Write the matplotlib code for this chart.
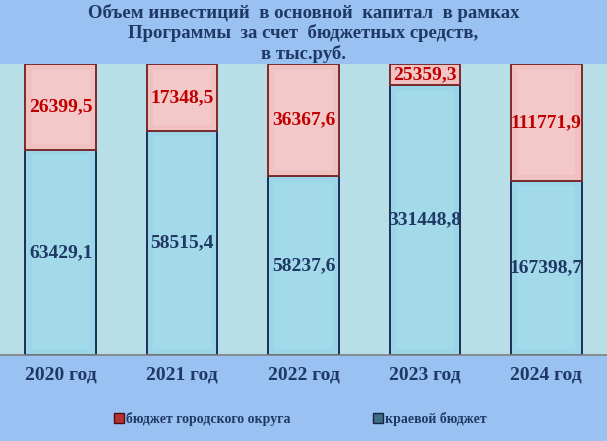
import matplotlib
matplotlib.use("Agg")
import matplotlib.pyplot as plt
from matplotlib.patches import Patch
import numpy as np

TITLE = "Объем инвестиций  в основной  капитал  в рамках\nПрограммы  за счет  бюджетных средств,\nв тыс.руб."

years = ["2020 год", "2021 год", "2022 год", "2023 год", "2024 год"]
kraevoy = [63429.1, 58515.4, 58237.6, 331448.8, 167398.7]
gorod = [26399.5, 17348.5, 36367.6, 25359.3, 111771.9]

NAVY = "#1F3864"
RED = "#C00000"


def fmt(v):
    return f"{v:.1f}".replace(".", ",")


plt.rcParams["font.family"] = ["Liberation Serif", "DejaVu Serif"]
fig = plt.figure(figsize=(6.07, 4.41), dpi=100)
fig.patch.set_facecolor("#99C1F1")
ax = fig.add_axes([0, 86 / 441, 1, 291 / 441])
ax.set_facecolor("#B8DFE8")

k = np.array(kraevoy)
g = np.array(gorod)
tot = k + g
kf = k / tot
gf = g / tot
x = np.arange(len(years))
w = 0.58

ax.bar(x, kf, w, color="#9AD6E8", edgecolor="#1B2F55", linewidth=1.4)
ax.bar(x, gf, w, bottom=kf, color="#F1C1C1", edgecolor="#7A2A2A", linewidth=1.4)
# bevel look: inner faces slightly lighter
ax.bar(x, kf - 0.04, w - 0.1, bottom=0.02, color="#A2DAEA", linewidth=0)
ax.bar(x, gf - 0.04, w - 0.1, bottom=kf + 0.02, color="#F3C8C8", linewidth=0)

for i in range(len(years)):
    ax.text(x[i], kf[i] / 2, fmt(kraevoy[i]), ha="center", va="center",
            fontsize=14, fontweight="bold", color=NAVY)
    ax.text(x[i], kf[i] + gf[i] / 2, fmt(gorod[i]), ha="center", va="center",
            fontsize=14, fontweight="bold", color=RED)

ax.set_xlim(-0.5, len(years) - 0.5)
ax.set_ylim(0, 1)
ax.set_yticks([])
ax.set_xticks(x)
ax.set_xticklabels(years, fontsize=14, fontweight="bold", color=NAVY)
ax.tick_params(axis="x", length=0, pad=8)
for s in ["top", "left", "right"]:
    ax.spines[s].set_visible(False)
ax.spines["bottom"].set_color("#808080")
ax.spines["bottom"].set_linewidth(1.2)

fig.text(0.5, 1 - 33.5 / 441, TITLE, ha="center", va="center", fontsize=13.5,
         fontweight="bold", color=NAVY, linespacing=1.2)

handles = [
    Patch(facecolor="#B83232", edgecolor="#4A1010", label="бюджет городского округа"),
    Patch(facecolor="#3E6E86", edgecolor="#14233F", label="краевой бюджет"),
]
fig.legend(handles=handles, loc="center",
           bbox_to_anchor=(0.495, 1 - 419 / 441), ncol=2, frameon=False,
           prop={"size": 10, "weight": "bold"}, labelcolor=NAVY,
           handlelength=0.7, handleheight=0.7, handletextpad=0.2,
           columnspacing=5.9)

fig.savefig("out.png", dpi=100, facecolor=fig.get_facecolor())
